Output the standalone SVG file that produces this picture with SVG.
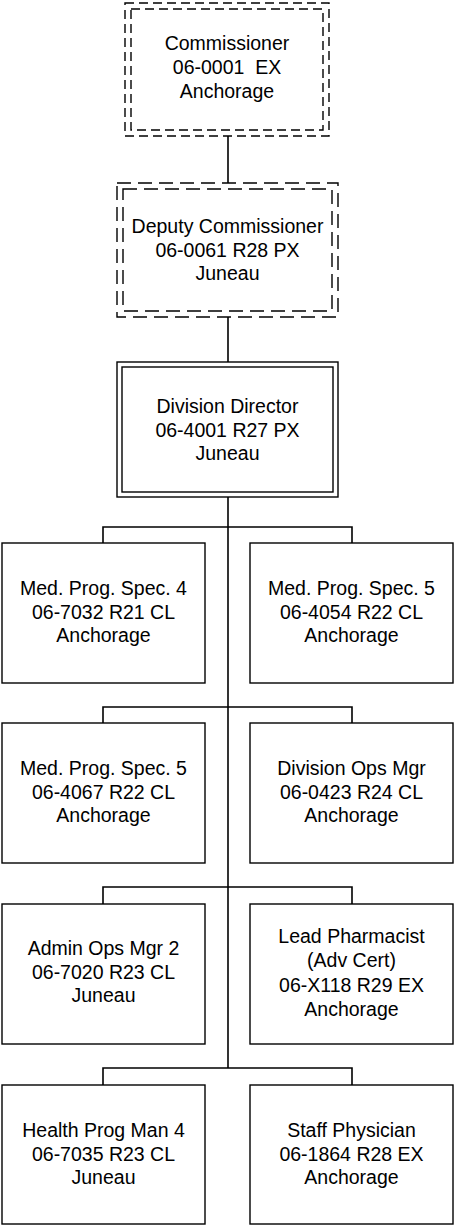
<svg xmlns="http://www.w3.org/2000/svg" width="454" height="1226" viewBox="0 0 454 1226">
<style>
.t{font-family:"Liberation Sans",Arial,sans-serif;font-size:19.5px;fill:#000;text-anchor:middle;white-space:pre}
.b{fill:#fff;stroke:#000;stroke-width:1.4}
.d1{fill:none;stroke:#000;stroke-width:1.4;stroke-dasharray:9 5}
.d2{fill:none;stroke:#000;stroke-width:1.4;stroke-dasharray:14 7}
.c{fill:none;stroke:#000;stroke-width:1.6}
</style>
<rect width="454" height="1226" fill="#fff"/>
<g id="connectors">
<path class="c" d="M228 136V183M228 317V362"/>
<path class="c" stroke-width="2" d="M228 497V1068"/>
<path class="c" d="M103 543V527H352V543M103 723V707H352V723M103 904V887H352V904M103 1085V1068H352V1085"/>
</g>
<g id="commissioner">
<rect x="125" y="3" width="204" height="133" fill="#fff" class="d1"/>
<rect x="131" y="9" width="192" height="121" class="d1"/>
<text class="t" x="227" y="50">Commissioner</text>
<text class="t" x="227" y="74">06-0001  EX</text>
<text class="t" x="227" y="98">Anchorage</text>
</g>
<g id="deputy">
<rect x="117" y="183" width="221" height="134" fill="#fff" class="d2"/>
<rect x="123" y="189" width="209" height="122" class="d2"/>
<text class="t" x="227.5" y="233">Deputy Commissioner</text>
<text class="t" x="227.5" y="256.5">06-0061 R28 PX</text>
<text class="t" x="227.5" y="280">Juneau</text>
</g>
<g id="director">
<rect x="117" y="362" width="221" height="135" class="b"/>
<rect x="122" y="367" width="211" height="125" class="b"/>
<text class="t" x="227.5" y="413">Division Director</text>
<text class="t" x="227.5" y="436.5">06-4001 R27 PX</text>
<text class="t" x="227.5" y="460">Juneau</text>
</g>
<g id="n1">
<rect x="2" y="543" width="203" height="140" class="b"/>
<text class="t" x="103.5" y="595">Med. Prog. Spec. 4</text>
<text class="t" x="103.5" y="618.5">06-7032 R21 CL</text>
<text class="t" x="103.5" y="642">Anchorage</text>
</g>
<g id="n2">
<rect x="250" y="543" width="203" height="140" class="b"/>
<text class="t" x="351.5" y="595">Med. Prog. Spec. 5</text>
<text class="t" x="351.5" y="618.5">06-4054 R22 CL</text>
<text class="t" x="351.5" y="642">Anchorage</text>
</g>
<g id="n3">
<rect x="2" y="723" width="203" height="140" class="b"/>
<text class="t" x="103.5" y="775">Med. Prog. Spec. 5</text>
<text class="t" x="103.5" y="798.5">06-4067 R22 CL</text>
<text class="t" x="103.5" y="822">Anchorage</text>
</g>
<g id="n4">
<rect x="250" y="723" width="203" height="140" class="b"/>
<text class="t" x="351.5" y="775">Division Ops Mgr</text>
<text class="t" x="351.5" y="798.5">06-0423 R24 CL</text>
<text class="t" x="351.5" y="822">Anchorage</text>
</g>
<g id="n5">
<rect x="2" y="904" width="203" height="140" class="b"/>
<text class="t" x="103.5" y="955">Admin Ops Mgr 2</text>
<text class="t" x="103.5" y="978.5">06-7020 R23 CL</text>
<text class="t" x="103.5" y="1002">Juneau</text>
</g>
<g id="n6">
<rect x="250" y="904" width="203" height="140" class="b"/>
<text class="t" x="351.5" y="943">Lead Pharmacist</text>
<text class="t" x="351.5" y="967">(Adv Cert)</text>
<text class="t" x="351.5" y="991.5">06-X118 R29 EX</text>
<text class="t" x="351.5" y="1016">Anchorage</text>
</g>
<g id="n7">
<rect x="2" y="1085" width="203" height="139" class="b"/>
<text class="t" x="103.5" y="1137">Health Prog Man 4</text>
<text class="t" x="103.5" y="1160.5">06-7035 R23 CL</text>
<text class="t" x="103.5" y="1184">Juneau</text>
</g>
<g id="n8">
<rect x="250" y="1085" width="203" height="139" class="b"/>
<text class="t" x="351.5" y="1137">Staff Physician</text>
<text class="t" x="351.5" y="1160.5">06-1864 R28 EX</text>
<text class="t" x="351.5" y="1184">Anchorage</text>
</g>
</svg>
